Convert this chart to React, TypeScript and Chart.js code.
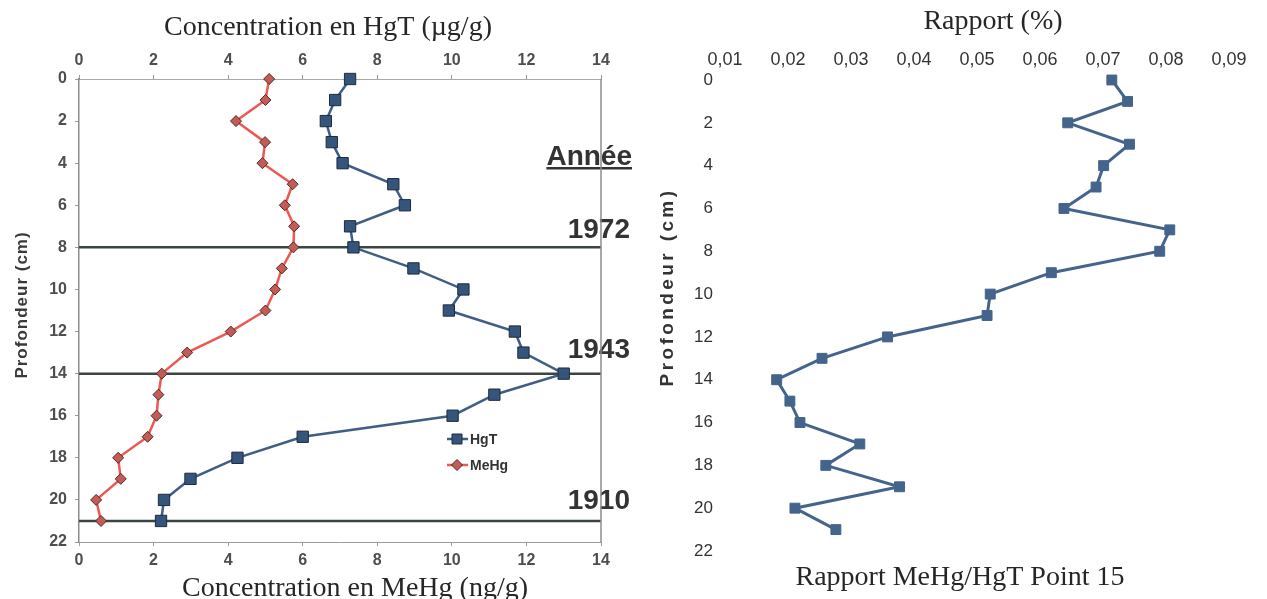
import React, { useEffect, useRef } from 'react';
import { Chart, registerables } from 'chart.js';

Chart.register(...registerables);

// ---------- data ----------
const depths = [0, 1, 2, 3, 4, 5, 6, 7, 8, 9, 10, 11, 12, 13, 14, 15, 16, 17, 18, 19, 20, 21];
const hgtValues = [7.27, 6.87, 6.62, 6.78, 7.07, 8.43, 8.74, 7.27, 7.36, 8.97, 10.31, 9.92, 11.69, 11.92, 13.0, 11.14, 10.02, 6.0, 4.25, 2.99, 2.28, 2.2];
const mehgValues = [5.1, 5.0, 4.21, 4.99, 4.92, 5.73, 5.52, 5.77, 5.75, 5.44, 5.26, 5.0, 4.07, 2.9, 2.22, 2.13, 2.08, 1.84, 1.05, 1.12, 0.46, 0.59];
const ratioValues = [0.0714, 0.0739, 0.0644, 0.0742, 0.0701, 0.0689, 0.0638, 0.0806, 0.079, 0.0618, 0.0521, 0.0516, 0.0358, 0.0254, 0.0182, 0.0203, 0.0219, 0.0314, 0.026, 0.0377, 0.0211, 0.0276];

const concTicks = [0, 2, 4, 6, 8, 10, 12, 14];
const depthTicks = [0, 2, 4, 6, 8, 10, 12, 14, 16, 18, 20, 22];
const ratioTicks = [0.01, 0.02, 0.03, 0.04, 0.05, 0.06, 0.07, 0.08, 0.09];
const ratioTickLabels = ['0,01', '0,02', '0,03', '0,04', '0,05', '0,06', '0,07', '0,08', '0,09'];

const seriesNames = ['HgT', 'MeHg'];
const yearLines = [8, 14, 21];
const yearLabels = ['1972', '1943', '1910'];
const yearHeading = 'Année';

const leftTopTitle = 'Concentration en HgT (µg/g)';
const leftBottomTitle = 'Concentration en MeHg (ng/g)';
const depthTitle = 'Profondeur (cm)';
const rightTopTitle = 'Rapport (%)';
const rightBottomTitle = 'Rapport MeHg/HgT Point 15';

// ---------- styles ----------
const SANS = '"Liberation Sans", Arial, sans-serif';
const SERIF = '"Liberation Serif", "Times New Roman", serif';
const HGT_LINE = '#3e5e86';
const HGT_FILL = '#36557c';
const HGT_EDGE = '#1d2b3c';
const MEHG_LINE = '#ee5852';
const MEHG_FILL = '#c45b55';
const MEHG_EDGE = '#4a2a2a';
const RATIO_COLOR = '#44648c';

function setTicks(values: number[]) {
  return (scale: any) => {
    scale.ticks = values.map((v) => ({ value: v }));
  };
}

function drawSerifTitle(ctx: CanvasRenderingContext2D, text: string, x: number, y: number) {
  ctx.save();
  ctx.font = `28px ${SERIF}`;
  ctx.fillStyle = '#262626';
  ctx.textAlign = 'center';
  ctx.textBaseline = 'middle';
  ctx.fillText(text, x, y);
  ctx.restore();
}

function drawVerticalTitle(ctx: CanvasRenderingContext2D, text: string, x: number, y: number, font: string, color: string, spacing: number) {
  ctx.save();
  ctx.translate(x, y);
  ctx.rotate(-Math.PI / 2);
  ctx.font = font;
  ctx.fillStyle = color;
  ctx.textAlign = 'center';
  ctx.textBaseline = 'middle';
  (ctx as any).letterSpacing = `${spacing}px`;
  ctx.fillText(text, 0, 0);
  ctx.restore();
}

const leftDecor = {
  id: 'leftDecor',
  beforeDatasetsDraw(chart: any) {
    const { ctx, chartArea, scales } = chart;
    ctx.save();
    ctx.strokeStyle = '#3c4444';
    ctx.lineWidth = 2.5;
    yearLines.forEach((d) => {
      const y = scales.y.getPixelForValue(d);
      ctx.beginPath();
      ctx.moveTo(chartArea.left, y);
      ctx.lineTo(chartArea.right, y);
      ctx.stroke();
    });
    ctx.restore();
  },
  afterDraw(chart: any) {
    const { ctx, chartArea, scales } = chart;
    const right = chartArea.right;
    ctx.save();
    ctx.font = `bold 28px ${SANS}`;
    ctx.fillStyle = '#333333';
    ctx.textAlign = 'right';
    ctx.textBaseline = 'middle';
    const hx = right + 31;
    ctx.fillText(yearHeading, hx, 157);
    const w = ctx.measureText(yearHeading).width;
    ctx.fillRect(hx - w, 167, w, 2.5);
    const dy = [-17, -23, -20];
    yearLines.forEach((d, i) => {
      ctx.fillText(yearLabels[i], right + 29, scales.y.getPixelForValue(d) + dy[i]);
    });
    // right frame line
    ctx.strokeStyle = '#8c8c8c';
    ctx.lineWidth = 1.5;
    ctx.beginPath();
    ctx.moveTo(right, chartArea.top);
    ctx.lineTo(right, chartArea.bottom);
    ctx.stroke();

    // legend
    const ds = chart.data.datasets;
    const legendY = [439, 465];
    ds.forEach((set: any, i: number) => {
      const y = legendY[i];
      ctx.strokeStyle = set.borderColor;
      ctx.lineWidth = 2.5;
      ctx.beginPath();
      ctx.moveTo(447, y);
      ctx.lineTo(468, y);
      ctx.stroke();
      ctx.fillStyle = set.pointBackgroundColor;
      ctx.strokeStyle = set.pointBorderColor;
      ctx.lineWidth = 1;
      ctx.beginPath();
      if (set.pointStyle === 'rect') {
        ctx.rect(452, y - 5, 10, 10);
      } else {
        ctx.moveTo(457, y - 5.5);
        ctx.lineTo(462.5, y);
        ctx.lineTo(457, y + 5.5);
        ctx.lineTo(451.5, y);
        ctx.closePath();
      }
      ctx.fill();
      ctx.stroke();
      ctx.fillStyle = '#333333';
      ctx.font = `bold 14px ${SANS}`;
      ctx.textAlign = 'left';
      ctx.textBaseline = 'middle';
      ctx.fillText(set.label, 470, y + 1);
    });
    ctx.restore();

    drawSerifTitle(ctx, leftTopTitle, 328, 28);
    drawSerifTitle(ctx, leftBottomTitle, 355, 589);
    drawVerticalTitle(ctx, depthTitle, 22, 305, `bold 17px ${SANS}`, '#3a3a3a', 1);
  },
};

const rightDecor = {
  id: 'rightDecor',
  afterDraw(chart: any) {
    const { ctx } = chart;
    drawSerifTitle(ctx, rightTopTitle, 353, 22);
    drawSerifTitle(ctx, rightBottomTitle, 320, 578);
    drawVerticalTitle(ctx, depthTitle, 28, 287, `bold 19px ${SANS}`, '#333333', 3.4);
  },
};

const leftTickFont = { family: SANS, size: 16, weight: 'bold' as const };

function buildLeftConfig(): any {
  return {
    type: 'line',
    data: {
      datasets: [
        {
          label: seriesNames[0],
          data: depths.map((d, i) => ({ x: hgtValues[i], y: d })),
          xAxisID: 'x',
          yAxisID: 'y',
          borderColor: HGT_LINE,
          borderWidth: 2.5,
          pointStyle: 'rect',
          pointRadius: 8,
          pointBackgroundColor: HGT_FILL,
          pointBorderColor: HGT_EDGE,
          pointBorderWidth: 1,
          tension: 0,
          clip: false,
        },
        {
          label: seriesNames[1],
          data: depths.map((d, i) => ({ x: mehgValues[i], y: d })),
          xAxisID: 'x2',
          yAxisID: 'y',
          borderColor: MEHG_LINE,
          borderWidth: 2.5,
          pointStyle: 'rectRot',
          pointRadius: 5.5,
          pointBackgroundColor: MEHG_FILL,
          pointBorderColor: MEHG_EDGE,
          pointBorderWidth: 1,
          tension: 0,
          clip: false,
        },
      ],
    },
    options: {
      responsive: false,
      animation: false,
      events: [],
      layout: { padding: { left: 0, right: 39, top: 0, bottom: 0 } },
      plugins: { legend: { display: false }, tooltip: { enabled: false }, title: { display: false } },
      scales: {
        x: {
          type: 'linear',
          axis: 'x',
          position: 'top',
          min: 0,
          max: 14,
          afterBuildTicks: setTicks(concTicks),
          afterFit: (s: any) => { s.height = 79; },
          grid: { drawOnChartArea: false, tickLength: 4, color: '#9a9a9a' },
          border: { color: '#a8a8a8', dash: [2, 1] },
          ticks: { padding: 5, font: leftTickFont, color: '#4e4e4e', maxRotation: 0, autoSkip: false },
        },
        x2: {
          type: 'linear',
          axis: 'x',
          position: 'bottom',
          min: 0,
          max: 14,
          afterBuildTicks: setTicks(concTicks),
          afterFit: (s: any) => { s.height = 57; },
          grid: { drawOnChartArea: false, tickLength: 4, color: '#9a9a9a' },
          border: { color: '#9a9a9a' },
          ticks: { padding: 5, font: leftTickFont, color: '#4e4e4e', maxRotation: 0, autoSkip: false },
        },
        y: {
          type: 'linear',
          position: 'left',
          reverse: true,
          min: 0,
          max: 22,
          afterBuildTicks: setTicks(depthTicks),
          afterFit: (s: any) => { s.width = 79; },
          grid: { drawOnChartArea: false, tickLength: 4, color: '#9a9a9a' },
          border: { color: '#8c8c8c', width: 1.5 },
          ticks: { padding: 8, font: leftTickFont, color: '#4e4e4e', autoSkip: false },
        },
      },
    },
    plugins: [leftDecor],
  };
}

function buildRightConfig(): any {
  return {
    type: 'line',
    data: {
      datasets: [
        {
          label: 'MeHg/HgT',
          data: depths.map((d, i) => ({ x: ratioValues[i], y: d })),
          xAxisID: 'x',
          yAxisID: 'y',
          borderColor: RATIO_COLOR,
          borderWidth: 3,
          pointStyle: 'rect',
          pointRadius: 7,
          pointBackgroundColor: RATIO_COLOR,
          pointBorderColor: RATIO_COLOR,
          pointBorderWidth: 1,
          tension: 0,
          clip: false,
        },
      ],
    },
    options: {
      responsive: false,
      animation: false,
      events: [],
      layout: { padding: { left: 0, right: 38, top: 0, bottom: 48 } },
      plugins: { legend: { display: false }, tooltip: { enabled: false }, title: { display: false } },
      scales: {
        x: {
          type: 'linear',
          position: 'top',
          min: 0.01,
          max: 0.09,
          afterBuildTicks: setTicks(ratioTicks),
          afterFit: (s: any) => { s.height = 80; },
          grid: { display: false, drawTicks: false },
          border: { display: false },
          ticks: {
            padding: 9,
            font: { family: SANS, size: 18 },
            color: '#333333',
            maxRotation: 0,
            autoSkip: false,
            callback: (_v: any, i: number) => ratioTickLabels[i],
          },
        },
        y: {
          type: 'linear',
          position: 'left',
          reverse: true,
          min: 0,
          max: 22,
          afterBuildTicks: setTicks(depthTicks),
          afterFit: (s: any) => { s.width = 85; },
          grid: { display: false, drawTicks: false },
          border: { display: false },
          ticks: { padding: 12, font: { family: SANS, size: 17 }, color: '#333333', autoSkip: false },
        },
      },
    },
    plugins: [rightDecor],
  };
}

export default function App() {
  const leftRef = useRef<HTMLCanvasElement | null>(null);
  const rightRef = useRef<HTMLCanvasElement | null>(null);

  useEffect(() => {
    const charts: Chart[] = [];
    if (leftRef.current) charts.push(new Chart(leftRef.current, buildLeftConfig()));
    if (rightRef.current) charts.push(new Chart(rightRef.current, buildRightConfig()));
    return () => {
      charts.forEach((c) => c.destroy());
    };
  }, []);

  return (
    <div
      style={{
        position: 'absolute',
        left: 0,
        top: 0,
        width: 1267,
        height: 599,
        overflow: 'hidden',
        background: '#ffffff',
      }}
    >
      <canvas
        ref={leftRef}
        width={640}
        height={599}
        style={{ position: 'absolute', left: 0, top: 0, width: 640, height: 599, display: 'block' }}
      />
      <canvas
        ref={rightRef}
        width={627}
        height={599}
        style={{ position: 'absolute', left: 640, top: 0, width: 627, height: 599, display: 'block' }}
      />
    </div>
  );
}
